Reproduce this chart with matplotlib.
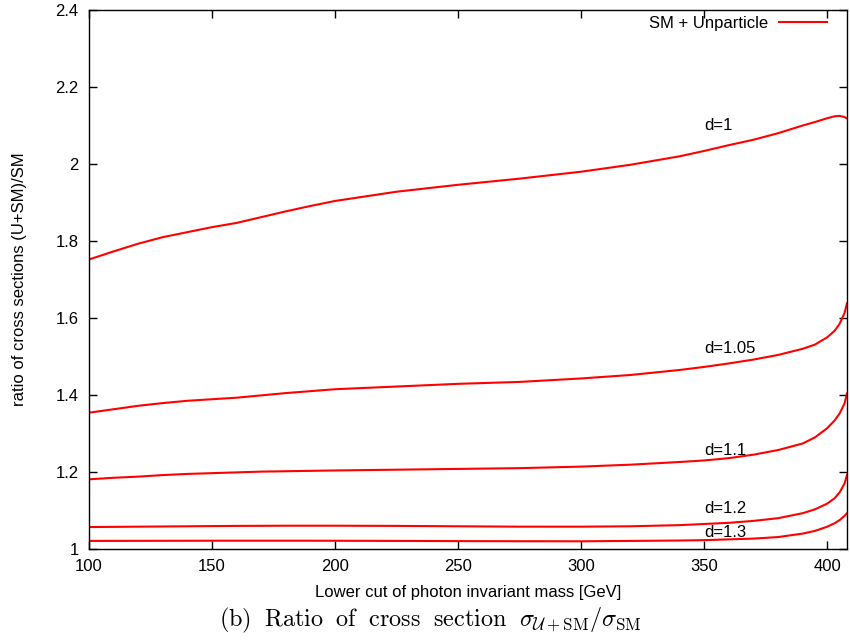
"""
Ratio of cross sections (SM + unparticle) / SM vs lower photon invariant-mass cut.
gnuplot-like look: inward mirrored ticks, red curves, inline d= labels.
"""

import matplotlib
matplotlib.use('Agg')
import matplotlib.pyplot as plt

plt.rcParams['font.family'] = ['Liberation Sans', 'DejaVu Sans']
plt.rcParams['mathtext.fontset'] = 'cm'

# --- Data ---
x_cut = [100, 110, 120, 130, 140, 150, 160, 170, 180, 190, 200, 225, 250,
         275, 300, 320, 340, 350, 360, 370, 380, 390, 395, 400, 403, 405,
         407, 408]

ratio_d100 = [1.752, 1.773, 1.793, 1.810, 1.823, 1.836, 1.847, 1.862, 1.877,
              1.891, 1.904, 1.928, 1.946, 1.962, 1.980, 1.998, 2.020, 2.034,
              2.049, 2.063, 2.080, 2.100, 2.109, 2.119, 2.124, 2.125, 2.122,
              2.118]
ratio_d105 = [1.354, 1.363, 1.372, 1.379, 1.385, 1.389, 1.393, 1.399, 1.405,
              1.410, 1.415, 1.422, 1.429, 1.434, 1.443, 1.452, 1.465, 1.473,
              1.482, 1.492, 1.504, 1.520, 1.531, 1.550, 1.567, 1.585, 1.613,
              1.638]
ratio_d110 = [1.181, 1.185, 1.188, 1.192, 1.195, 1.197, 1.199, 1.201, 1.202,
              1.203, 1.204, 1.206, 1.208, 1.210, 1.214, 1.219, 1.226, 1.230,
              1.236, 1.245, 1.257, 1.274, 1.290, 1.314, 1.334, 1.352, 1.378,
              1.404]
ratio_d120 = [1.057, 1.0575, 1.058, 1.0585, 1.059, 1.0595, 1.060, 1.0602,
              1.0605, 1.0605, 1.0605, 1.060, 1.059, 1.058, 1.058, 1.059, 1.062,
              1.065, 1.068, 1.073, 1.080, 1.093, 1.103, 1.118, 1.132, 1.147,
              1.170, 1.192]
ratio_d130 = [1.021, 1.0211, 1.0212, 1.0213, 1.0214, 1.0215, 1.0215, 1.0215,
              1.0215, 1.0215, 1.0214, 1.021, 1.0205, 1.0202, 1.020, 1.021,
              1.022, 1.023, 1.025, 1.027, 1.031, 1.040, 1.047, 1.058, 1.067,
              1.075, 1.086, 1.093]

curves = [ratio_d100, ratio_d105, ratio_d110, ratio_d120, ratio_d130]

# inline labels: (text, x, y) in data coords
labels = [('d=1', 350, 2.10), ('d=1.05', 350, 1.522), ('d=1.1', 350, 1.257),
          ('d=1.2', 350, 1.104), ('d=1.3', 350, 1.042)]

x_ticks = [100, 150, 200, 250, 300, 350, 400]
y_ticks = [1, 1.2, 1.4, 1.6, 1.8, 2, 2.2, 2.4]
y_ticklabels = ['1', '1.2', '1.4', '1.6', '1.8', '2', '2.2', '2.4']

RED = '#ff0000'
W, H = 850, 644

# --- Figure ---
fig = plt.figure(figsize=(W / 100, H / 100), dpi=100)
ax = fig.add_axes([89 / W, 1 - 549 / H, (847 - 89) / W, (549 - 10) / H])

for i, r in enumerate(curves):
    ax.plot(x_cut, r, color=RED, lw=1.5,
            label='SM + Unparticle' if i == 0 else None)

for txt, lx, ly in labels:
    ax.text(lx, ly, txt, fontsize=12, ha='left', va='center', color='black')

ax.set_xlim(100, 408)
ax.set_ylim(1, 2.4)
ax.set_xticks(x_ticks)
ax.set_yticks(y_ticks)
ax.set_yticklabels(y_ticklabels)
ax.tick_params(direction='in', length=6, width=1, top=True, right=True,
               labelsize=12)
ax.tick_params(axis='x', pad=7.5)
ax.tick_params(axis='y', pad=7.5)
for s in ax.spines.values():
    s.set_linewidth(1.0)

ax.set_xlabel('Lower cut of photon invariant mass [GeV]', fontsize=12)
ax.xaxis.set_label_coords(0.5, -(585 - 549) / 539)
ax.set_ylabel('ratio of cross sections (U+SM)/SM', fontsize=12)
ax.yaxis.set_label_coords((27 - 89) / 758, 0.5)

# legend: text then line sample (gnuplot style)
ax.legend(loc='upper right', bbox_to_anchor=((827 - 89) / 758, 1 - 6 / 539),
          frameon=False, fontsize=12, markerfirst=False, handlelength=2.9,
          handletextpad=0.65, borderaxespad=0, borderpad=0)

caption = (r'$\mathrm{(b)}\;\ \mathrm{Ratio}\;\ \mathrm{of}\;\ \mathrm{cross}\;\ '
           r'\mathrm{section}\;\ \sigma_{\mathcal{U}+\mathrm{SM}}/\sigma_{\mathrm{SM}}$')
fig.text(219 / W, 1 - 626 / H, caption, fontsize=17.5, ha='left', va='baseline')

fig.savefig('out.png', dpi=100)
plt.close(fig)
